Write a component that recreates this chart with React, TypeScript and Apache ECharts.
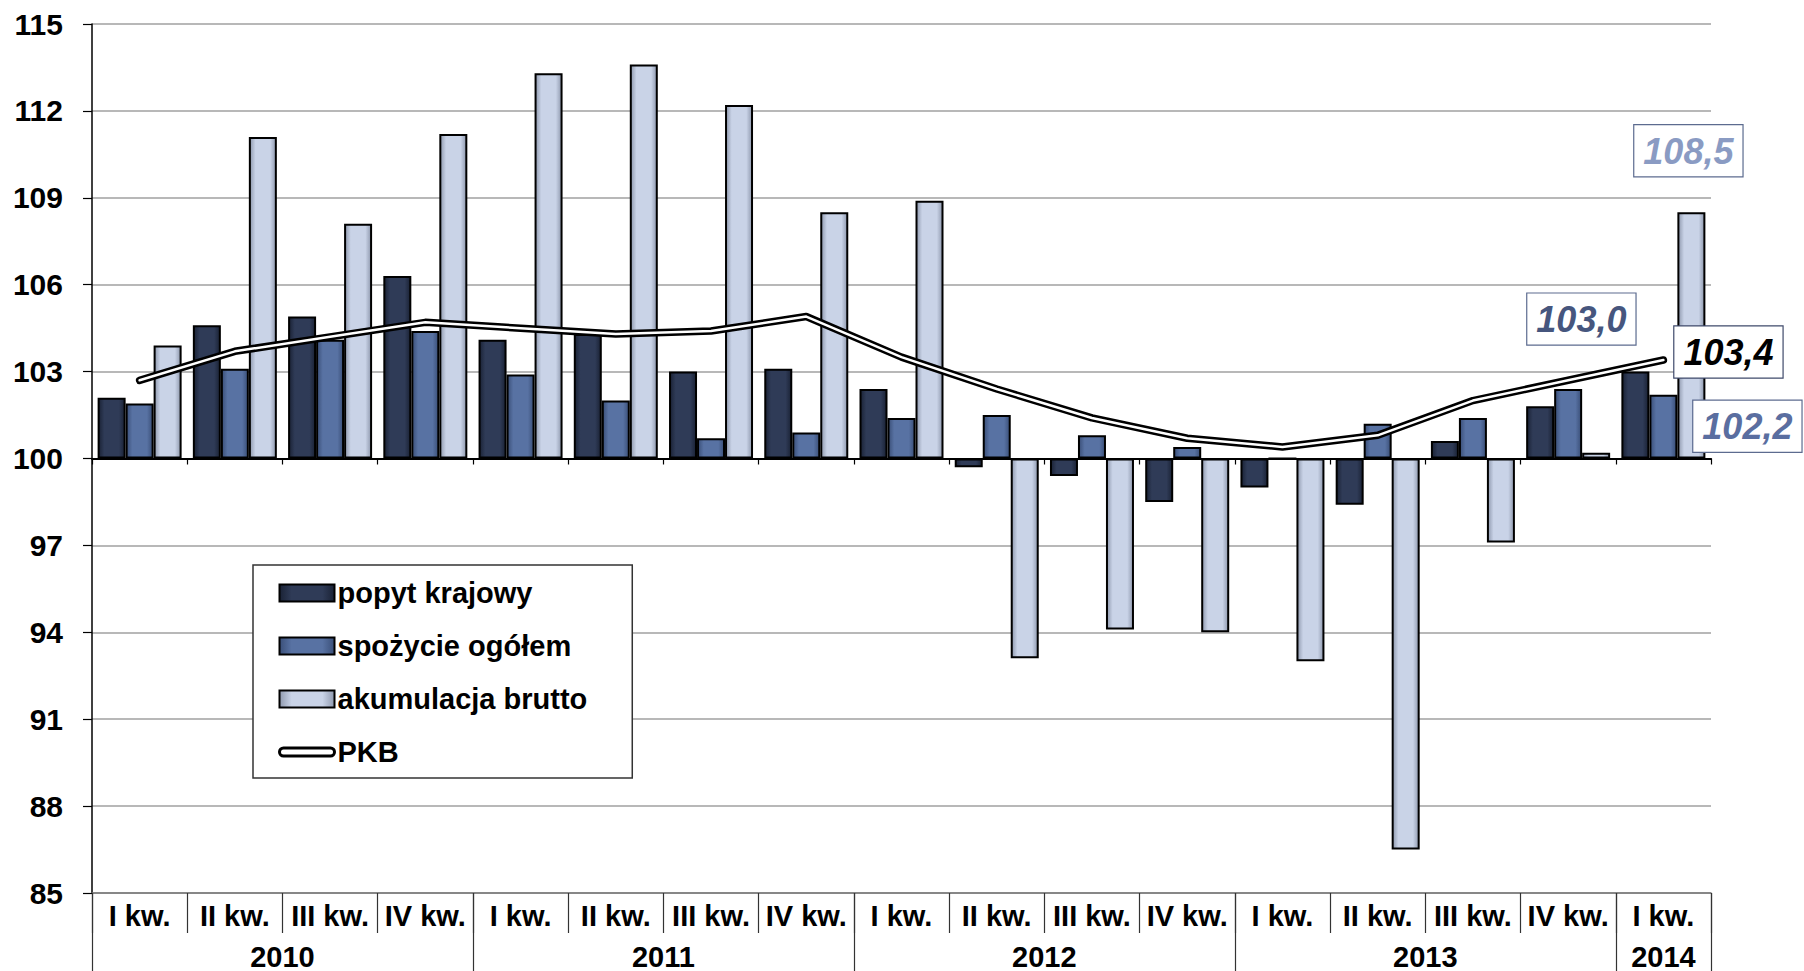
import React, { useEffect, useRef } from 'react';
import * as echarts from 'echarts';

const quarters = [
  'I kw.', 'II kw.', 'III kw.', 'IV kw.',
  'I kw.', 'II kw.', 'III kw.', 'IV kw.',
  'I kw.', 'II kw.', 'III kw.', 'IV kw.',
  'I kw.', 'II kw.', 'III kw.', 'IV kw.',
  'I kw.',
];
const years = ['2010', '2011', '2012', '2013', '2014'];
const quartersPerYear = [4, 4, 4, 4, 1];

const popytKrajowy = [102.1, 104.6, 104.9, 106.3, 104.1, 104.3, 103.0, 103.1, 102.4, 99.7, 99.4, 98.5, 99.0, 98.4, 100.6, 101.8, 103.0];
const spozycieOgolem = [101.9, 103.1, 104.1, 104.4, 102.9, 102.0, 100.7, 100.9, 101.4, 101.5, 100.8, 100.4, 100.0, 101.2, 101.4, 102.4, 102.2];
const akumulacjaBrutto = [103.9, 111.1, 108.1, 111.2, 113.3, 113.6, 112.2, 108.5, 108.9, 93.1, 94.1, 94.0, 93.0, 86.5, 97.1, 100.2, 108.5];
const pkb = [102.7, 103.7, 104.2, 104.7, 104.5, 104.3, 104.4, 104.9, 103.5, 102.4, 101.4, 100.7, 100.4, 100.8, 102.0, 102.7, 103.4];

const BASE = 100;
const Y_MIN = 85;
const Y_MAX = 115;
const Y_STEP = 3;

const FONT = "'Liberation Sans', Arial, sans-serif";

const fmt = (v: number) => v.toFixed(1).replace('.', ',');

const grad = (edge: string, mid: string) => ({
  type: 'linear', x: 0, y: 0, x2: 1, y2: 0,
  colorStops: [
    { offset: 0, color: edge },
    { offset: 0.22, color: mid },
    { offset: 0.78, color: mid },
    { offset: 1, color: edge },
  ],
});

const boxLabel = (color: string, border: string) => ({
  show: true,
  fontFamily: FONT,
  fontSize: 36,
  fontWeight: 'bold',
  fontStyle: 'italic',
  color,
  backgroundColor: '#ffffff',
  borderColor: border,
  borderWidth: 1.2,
  padding: [6, 9, 5, 9],
  lineHeight: 40,
});

export default function App() {
  const ref = useRef<HTMLDivElement>(null);

  useEffect(() => {
    document.body.style.margin = '0';
    if (!ref.current) return;
    const chart = echarts.init(ref.current, null, { renderer: 'svg' });
    const last = quarters.length - 1;

    // year axis: half-slot points so that group centres and boundaries are points
    const nSlots = quarters.length * 2 + 1;
    const yearSlots: string[] = new Array(nSlots).fill('');
    const boundaries = new Set<number>();
    let pos = 0;
    years.forEach((y, i) => {
      boundaries.add(pos * 2);
      yearSlots[pos * 2 + quartersPerYear[i]] = y;
      pos += quartersPerYear[i];
    });
    boundaries.add(pos * 2);

    const mkBarData = (arr: number[], label: any) =>
      arr.map((v, i) => (i === last ? { value: v - BASE, label } : v - BASE));

    const barCommon = {
      type: 'bar',
      xAxisIndex: 0,
      barWidth: 28,
      barGap: '0%',
      z: 2,
    };

    const option: any = {
      animation: false,
      grid: { left: 92, right: 93, top: 24, bottom: 77, containLabel: false },
      legend: {
        orient: 'vertical',
        left: 253,
        top: 565,
        padding: [12, 45, 10, 25],
        backgroundColor: '#ffffff',
        borderColor: '#333333',
        borderWidth: 1.5,
        borderRadius: 0,
        itemWidth: 55,
        itemHeight: 17,
        itemGap: 21,
        icon: 'rect',
        selectedMode: false,
        textStyle: { fontFamily: FONT, fontSize: 29, fontWeight: 'bold', color: '#000', lineHeight: 32, padding: [0, 0, 0, -2] },
        data: [
          { name: 'popyt krajowy' },
          { name: 'spożycie ogółem' },
          { name: 'akumulacja brutto' },
          {
            name: 'PKB',
            icon: 'path://M4,0 L51,0 A4,4 0 0 1 51,8 L4,8 A4,4 0 0 1 4,0 Z',
            itemStyle: { color: '#ffffff', borderColor: '#000000', borderWidth: 3 },
          },
        ],
      },
      xAxis: [
        {
          type: 'category',
          data: quarters,
          position: 'bottom',
          boundaryGap: true,
          axisLine: { onZero: false, show: true, lineStyle: { color: '#777777', width: 1.5 } },
          axisTick: { show: true, length: 40, lineStyle: { color: '#333333', width: 1.2 } },
          axisLabel: { fontFamily: FONT, fontSize: 29, fontWeight: 'bold', color: '#000', margin: 8, interval: 0 },
          splitLine: { show: false },
        },
        {
          type: 'category',
          data: quarters,
          position: 'bottom',
          boundaryGap: true,
          axisLine: { onZero: true, show: true, lineStyle: { color: '#000000', width: 2 } },
          axisTick: { show: true, length: 6, lineStyle: { color: '#000000', width: 1.2 } },
          axisLabel: { show: false },
          splitLine: { show: false },
        },
        {
          type: 'category',
          data: yearSlots,
          position: 'bottom',
          boundaryGap: false,
          axisLine: { onZero: false, show: false },
          axisTick: {
            show: true,
            length: 80,
            interval: (idx: number) => boundaries.has(idx),
            lineStyle: { color: '#333333', width: 1.2 },
          },
          axisLabel: { fontFamily: FONT, fontSize: 29, fontWeight: 'bold', color: '#000', margin: 49, interval: 0 },
          splitLine: { show: false },
        },
      ],
      yAxis: {
        type: 'value',
        min: Y_MIN - BASE,
        max: Y_MAX - BASE,
        interval: Y_STEP,
        axisLine: { show: true, onZero: false, lineStyle: { color: '#000000', width: 1.5 } },
        axisTick: { show: true, length: 9, lineStyle: { color: '#000000', width: 1.2 } },
        axisLabel: {
          fontFamily: FONT, fontSize: 30, fontWeight: 'bold', color: '#000', margin: 29,
          formatter: (v: number) => String(Math.round(v + BASE)),
        },
        splitLine: { show: true, lineStyle: { color: '#a0a0a0', width: 1.5 } },
      },
      series: [
        {
          ...barCommon,
          name: 'popyt krajowy',
          itemStyle: { color: grad('#1a2235', '#2f3b57'), borderColor: '#000', borderWidth: 2 },
          data: mkBarData(popytKrajowy, {
            ...boxLabel('#46567e', '#5c6b8f'),
            position: 'top',
            offset: [-54, -22],
            formatter: () => fmt(popytKrajowy[last]),
          }),
        },
        {
          ...barCommon,
          name: 'spożycie ogółem',
          itemStyle: { color: grad('#3a4f78', '#5872a3'), borderColor: '#000', borderWidth: 2 },
          data: mkBarData(spozycieOgolem, {
            ...boxLabel('#5a6ea0', '#5c6b8f'),
            position: 'top',
            offset: [84, 62],
            formatter: () => fmt(spozycieOgolem[last]),
          }),
        },
        {
          ...barCommon,
          name: 'akumulacja brutto',
          itemStyle: { color: grad('#8f99ae', '#c9d3e7'), borderColor: '#000', borderWidth: 2 },
          data: mkBarData(akumulacjaBrutto, {
            ...boxLabel('#8a9bc3', '#5c6b8f'),
            position: 'top',
            offset: [-3, -31],
            formatter: () => fmt(akumulacjaBrutto[last]),
          }),
        },
        {
          type: 'line',
          name: 'PKB',
          xAxisIndex: 0,
          symbol: 'none',
          z: 5,
          lineStyle: { color: '#000000', width: 7.5, cap: 'round', join: 'round' },
          itemStyle: { color: '#ffffff', borderColor: '#000000' },
          data: pkb.map((v) => v - BASE),
        },
        {
          type: 'line',
          name: 'PKB',
          xAxisIndex: 0,
          symbol: 'none',
          z: 6,
          lineStyle: { color: '#ffffff', width: 2.5, cap: 'round', join: 'round' },
          itemStyle: { color: '#ffffff', borderColor: '#000000' },
          endLabel: {
            ...boxLabel('#000000', '#3f4a6b'),
            distance: 11,
            offset: [0, -8],
            formatter: () => fmt(pkb[last]),
          },
          data: pkb.map((v) => v - BASE),
        },
      ],
    };

    chart.setOption(option);
    return () => chart.dispose();
  }, []);

  return <div ref={ref} style={{ width: 1804, height: 971 }} />;
}
